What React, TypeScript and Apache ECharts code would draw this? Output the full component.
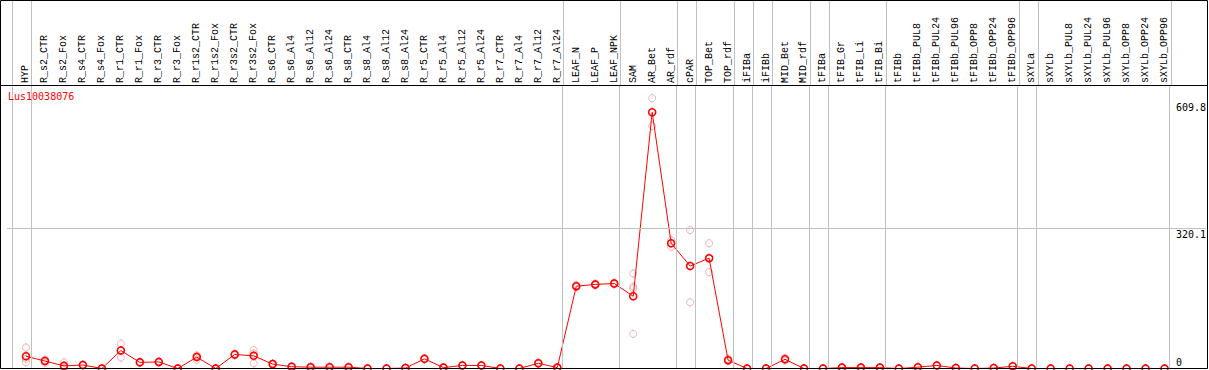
import React, { useEffect, useRef } from "react";
import * as echarts from "echarts";

const categories = [
  "HYP",
  "R_s2_CTR", "R_s2_Fox", "R_s4_CTR", "R_s4_Fox",
  "R_r1_CTR", "R_r1_Fox", "R_r3_CTR", "R_r3_Fox",
  "R_r1s2_CTR", "R_r1s2_Fox", "R_r3s2_CTR", "R_r3s2_Fox",
  "R_s6_CTR", "R_s6_Al4", "R_s6_Al12", "R_s6_Al24",
  "R_s8_CTR", "R_s8_Al4", "R_s8_Al12", "R_s8_Al24",
  "R_r5_CTR", "R_r5_Al4", "R_r5_Al12", "R_r5_Al24",
  "R_r7_CTR", "R_r7_Al4", "R_r7_Al12", "R_r7_Al24",
  "LEAF_N", "LEAF_P", "LEAF_NPK",
  "SAM", "AR_Bet", "AR_rdf", "cPAR", "TOP_Bet", "TOP_rdf",
  "iFIBa", "iFIBb", "MID_Bet", "MID_rdf",
  "tFIBa", "tFIB_Gr", "tFIB_Li", "tFIB_Bi",
  "tFIBb", "tFIBb_PUL8", "tFIBb_PUL24", "tFIBb_PUL96", "tFIBb_OPP8", "tFIBb_OPP24", "tFIBb_OPP96",
  "sXYLa", "sXYLb", "sXYLb_PUL8", "sXYLb_PUL24", "sXYLb_PUL96", "sXYLb_OPP8", "sXYLb_OPP24", "sXYLb_OPP96",
];

const means = [
  28,
  17, 6, 8, 0,
  41, 14, 15, 0,
  26, 0, 32, 29,
  10, 4, 3, 3,
  3, 0, 0, 1,
  22, 2, 7, 7,
  0, 0, 12, 2,
  188, 192, 194,
  165, 585, 286, 234, 252, 19,
  0, 0, 21, 0,
  0, 2, 2, 2,
  0, 3, 7, 1, 0, 1, 5,
  0, 0, 0, 0, 0, 0, 0, 0,
];

const replicates: number[][] = [
  [48, 22, 14],
  [20, 18, 13], [14, 3, 1], [9, 8, 7], [0, 0, 0],
  [57, 41, 25], [15, 14, 13], [16, 15, 14], [0, 0, 0],
  [30, 28, 20], [0, 0, 0], [34, 32, 30], [42, 34, 12],
  [11, 10, 9], [5, 4, 3], [4, 3, 2], [3, 3, 3],
  [3, 3, 3], [0, 0, 0], [0, 0, 0], [1, 1, 1],
  [23, 22, 21], [2, 2, 2], [8, 7, 6], [8, 7, 6],
  [0, 0, 0], [0, 0, 0], [13, 12, 11], [2, 2, 2],
  [190, 186], [194, 190], [196, 192],
  [217, 187, 183, 79], [617, 554], [293, 278], [316, 151], [286, 220], [22, 17],
  [0, 0], [0, 0], [24, 18], [0, 0],
  [0, 0], [2, 2], [2, 2], [2, 2],
  [0, 0], [3, 3], [8, 6], [1, 1], [0, 0], [1, 1], [5, 5],
  [0, 0], [0, 0], [0, 0], [0, 0], [0, 0], [0, 0], [0, 0], [0, 0],
];

// index of the last category in each group (-1 = line before the first group)
const groupEnds = [-1, 0, 28, 31, 34, 35, 37, 38, 39, 41, 42, 45, 52, 53, 60];

const yTickValues = [0, 320.1, 609.8];
const gridValue = 320.1;
const geneName = "Lus10038076";

// circle with small ticks at top and bottom
const MARKER =
  "path://M0,-4.5L0,-3.5M0,3.5L0,4.5" +
  "M3.5,0C3.5,1.933,1.933,3.5,0,3.5C-1.933,3.5,-3.5,1.933,-3.5,0C-3.5,-1.933,-1.933,-3.5,0,-3.5C1.933,-3.5,3.5,-1.933,3.5,0Z";

const FONT = "DejaVu Sans Mono";
const LABEL_FONT = "Liberation Mono";

export default function App() {
  const ref = useRef<HTMLDivElement>(null);

  useEffect(() => {
    document.body.style.margin = "0";
    if (!ref.current) return;
    const chart = echarts.init(ref.current, null, { renderer: "svg" });

    const xMin = -1;
    const xMax = 62.18;
    const boundaryLines = groupEnds.map((k) => ({ xAxis: k + 0.263 }));
    const gridLineStyle = { color: "#c0c0c0", width: 1, type: "solid" as const };

    const scatterData = replicates.flatMap((r, i) => r.map((v) => [i, v]));
    const lineData = means.map((v, i) => [i, v]);

    const option: any = {
      animation: false,
      backgroundColor: "#fff",
      title: {
        text: geneName,
        left: 8,
        top: 91,
        padding: 0,
        textStyle: { color: "#ff0000", fontSize: 10, fontFamily: FONT, fontWeight: "normal" },
      },
      grid: [
        { left: 7, right: 1.5, top: 86, bottom: 1.5 },
        { left: 7, right: 1.5, top: 0, height: 86 },
      ],
      xAxis: [
        {
          type: "value",
          gridIndex: 0,
          position: "top",
          min: xMin,
          max: xMax,
          interval: 1,
          axisLine: { show: false },
          axisTick: { show: false },
          splitLine: { show: false },
          axisLabel: {
            rotate: 90,
            margin: 3,
            fontSize: 10,
            fontFamily: LABEL_FONT,
            color: "#000",
            formatter: (v: number) => {
              const i = Math.round(v);
              return Math.abs(v - i) < 1e-6 && categories[i] !== undefined ? categories[i] : "";
            },
          },
        },
        {
          type: "value",
          gridIndex: 1,
          min: xMin,
          max: xMax,
          show: false,
        },
      ],
      yAxis: [
        {
          type: "value",
          gridIndex: 0,
          min: 0,
          max: 645,
          position: "right",
          offset: -30,
          axisLine: { show: false },
          axisTick: { show: false },
          splitLine: { show: false },
          axisLabel: {
            customValues: yTickValues,
            margin: 0,
            fontSize: 10,
            fontFamily: FONT,
            color: "#000",
            formatter: (v: number) => (v === 0 ? "{b|0}" : "{a|" + v + "}"),
            rich: {
              a: { padding: [12, 0, 0, 0], fontSize: 10, fontFamily: FONT, color: "#000" },
              b: { padding: [0, 0, 12, 0], fontSize: 10, fontFamily: FONT, color: "#000" },
            },
          },
        },
        { type: "value", gridIndex: 1, min: 0, max: 1, show: false },
      ],
      series: [
        {
          type: "line",
          xAxisIndex: 0,
          yAxisIndex: 0,
          data: [],
          silent: true,
          z: 1,
          markLine: {
            silent: true,
            symbol: "none",
            label: { show: false },
            lineStyle: gridLineStyle,
            data: [...boundaryLines, { yAxis: gridValue }],
          },
        },
        {
          type: "line",
          xAxisIndex: 1,
          yAxisIndex: 1,
          data: [],
          silent: true,
          z: 1,
          markLine: {
            silent: true,
            symbol: "none",
            label: { show: false },
            lineStyle: gridLineStyle,
            data: boundaryLines,
          },
        },
        {
          type: "scatter",
          xAxisIndex: 0,
          yAxisIndex: 0,
          data: scatterData,
          symbol: MARKER,
          symbolSize: 9,
          symbolKeepAspect: true,
          clip: false,
          z: 2,
          itemStyle: { color: "rgba(0,0,0,0)", borderColor: "#f0a0a0", borderWidth: 1 },
        },
        {
          type: "line",
          xAxisIndex: 0,
          yAxisIndex: 0,
          data: lineData,
          symbol: MARKER,
          symbolSize: 9,
          symbolKeepAspect: true,
          showAllSymbol: true,
          clip: false,
          z: 3,
          lineStyle: { color: "#ff0000", width: 1 },
          itemStyle: { color: "rgba(0,0,0,0)", borderColor: "#ff0000", borderWidth: 1.5 },
        },
      ],
      graphic: [
        {
          type: "rect",
          z: 100,
          silent: true,
          shape: { x: 0.5, y: 0.5, width: 1207, height: 368 },
          style: { fill: "none", stroke: "#000", lineWidth: 1 },
        },
        {
          type: "line",
          z: 100,
          silent: true,
          shape: { x1: 0.5, y1: 85.5, x2: 1207.5, y2: 85.5 },
          style: { stroke: "#000", lineWidth: 1 },
        },
      ],
    };

    chart.setOption(option);
    return () => chart.dispose();
  }, []);

  return <div ref={ref} style={{ width: 1209, height: 370 }} />;
}
